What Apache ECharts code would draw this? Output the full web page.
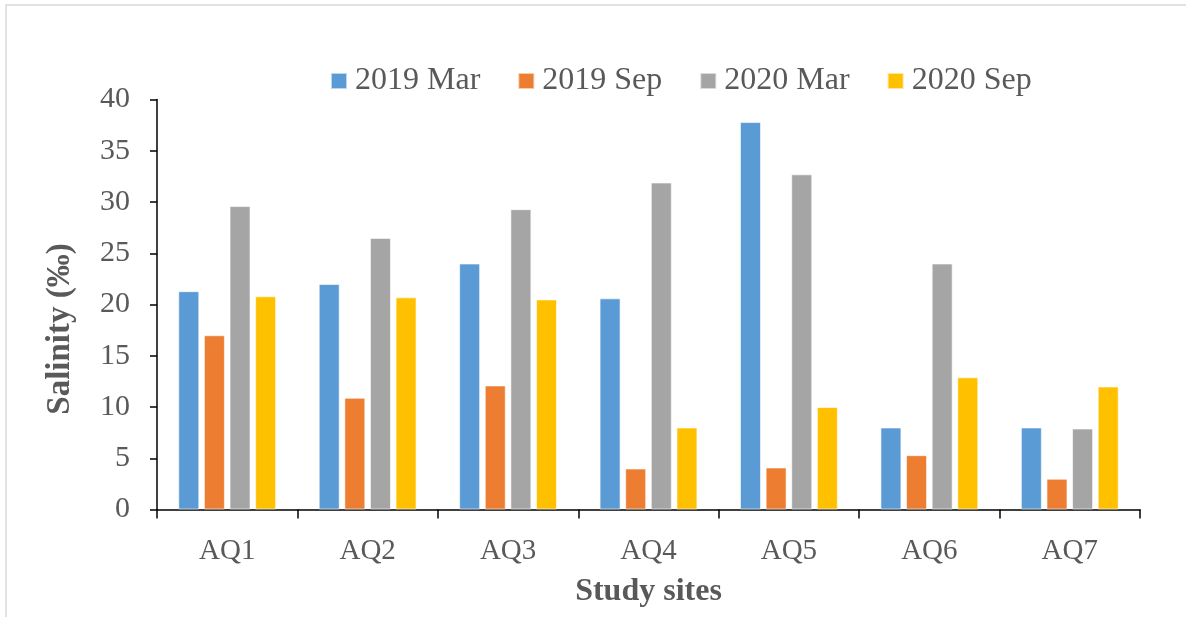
<!DOCTYPE html>
<html>
<head>
<meta charset="utf-8">
<script src="https://cdn.jsdelivr.net/npm/echarts@6/dist/echarts.min.js"></script>
<style>html,body{margin:0;padding:0;background:#fff;}#chart{width:1186px;height:617px;}</style>
</head>
<body>
<div id="chart"></div>
<script>
const categories = ['AQ1', 'AQ2', 'AQ3', 'AQ4', 'AQ5', 'AQ6', 'AQ7'];
const mar2019 = [21.3, 22.0, 24.0, 20.6, 37.8, 8.0, 8.0];
const sep2019 = [17.0, 10.9, 12.1, 4.0, 4.1, 5.3, 3.0];
const mar2020 = [29.6, 26.5, 29.3, 31.9, 32.7, 24.0, 7.9];
const sep2020 = [20.8, 20.7, 20.5, 8.0, 10.0, 12.9, 12.0];
const seriesNames = ['2019 Mar', '2019 Sep', '2020 Mar', '2020 Sep'];
const colors = ['#5b9bd5', '#ed7d31', '#a5a5a5', '#ffc000'];
const yTicks = [0, 5, 10, 15, 20, 25, 30, 35, 40];

const font = 'Liberation Serif, Times New Roman, serif';
const textColor = '#595959';
const chart = echarts.init(document.getElementById('chart'));
const data = [mar2019, sep2019, mar2020, sep2020];

chart.setOption({
  animation: false,
  color: colors,
  graphic: [
    { type: 'rect', shape: { x: 6, y: 5, width: 1200, height: 640 }, style: { fill: 'none', stroke: '#d9d9d9', lineWidth: 1.5 }, silent: true },
    { type: 'text', x: 60, y: 329, rotation: Math.PI / 2, style: { text: 'Salinity (‰)', font: 'bold 33px ' + font, fill: textColor, align: 'center', verticalAlign: 'middle' } }
  ],
  legend: {
    left: 330, top: 65, padding: 0,
    itemWidth: 16, itemHeight: 16, itemGap: 37,
    icon: 'rect',
    textStyle: { fontFamily: font, fontSize: 32, color: textColor, padding: [0, 0, 0, 3] },
    data: seriesNames
  },
  grid: { left: 157, right: 46, top: 99.5, bottom: 107.5, containLabel: false, outerBoundsMode: 'none' },
  xAxis: {
    type: 'category',
    data: categories,
    name: 'Study sites',
    nameLocation: 'middle',
    nameGap: 66,
    nameTextStyle: { fontFamily: font, fontSize: 32, fontWeight: 'bold', color: textColor },
    axisLine: { lineStyle: { color: '#000', width: 1.5 } },
    axisTick: { show: true, length: 9, lineStyle: { color: '#000', width: 1.5 } },
    axisLabel: { fontFamily: font, fontSize: 29, color: textColor, margin: 27 }
  },
  yAxis: {
    type: 'value',
    min: yTicks[0], max: yTicks[yTicks.length - 1], interval: 5,
    splitLine: { show: false },
    axisLine: { show: true, lineStyle: { color: '#000', width: 1.5 } },
    axisTick: { show: true, length: 7, lineStyle: { color: '#000', width: 1.5 } },
    axisLabel: { fontFamily: font, fontSize: 30, color: textColor, margin: 27 }
  },
  series: seriesNames.map((n, i) => ({
    name: n,
    type: 'bar',
    data: data[i],
    barWidth: 21,
    barGap: '22%',
    itemStyle: { color: colors[i], borderColor: 'rgba(255,255,255,0.6)', borderWidth: 1 }
  }))
});
</script>
</body>
</html>
